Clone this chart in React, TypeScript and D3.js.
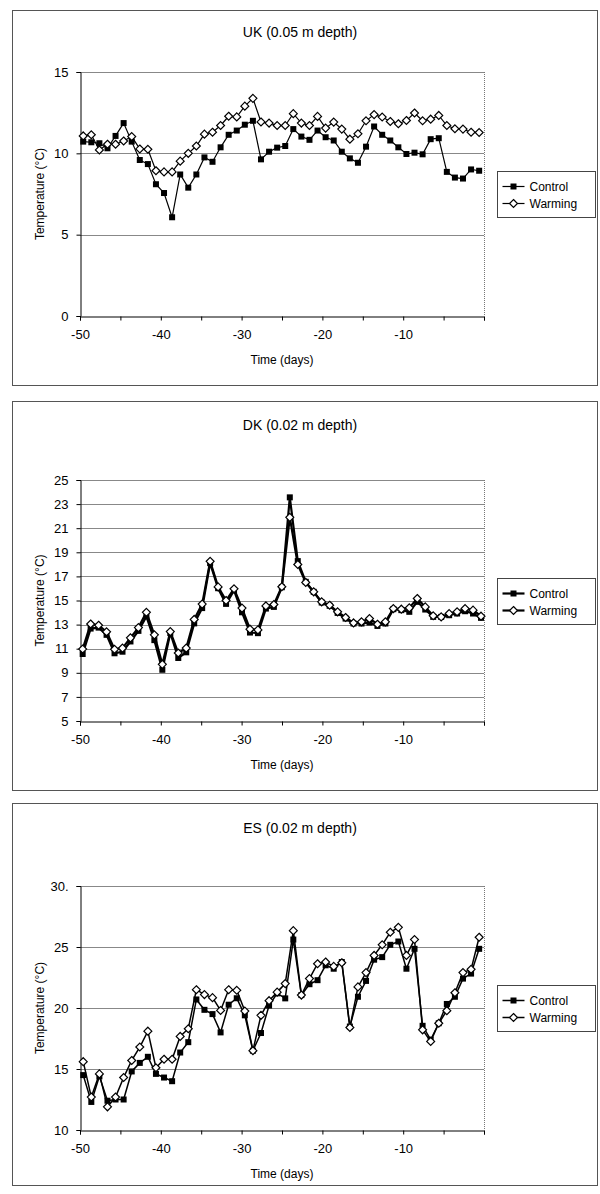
import React, { useEffect, useRef } from 'react';
import * as d3 from 'd3';

// readings from the three sites, one value per day
const ukControl = [10.72, 10.68, 10.62, 10.31, 11.07, 11.86, 10.72, 9.59, 9.34, 8.10,
  7.56, 6.07, 8.70, 7.89, 8.70, 9.75, 9.48, 10.37, 11.14, 11.40,
  11.76, 12.00, 9.63, 10.10, 10.35, 10.45, 11.49, 11.03, 10.83, 11.40,
  10.99, 10.79, 10.10, 9.69, 9.42, 10.41, 11.65, 11.14, 10.79, 10.37,
  9.96, 10.04, 9.94, 10.87, 10.93, 8.86, 8.51, 8.45, 9.01, 8.93];
const ukWarming = [11.07, 11.14, 10.21, 10.56, 10.56, 10.76, 11.03, 10.27, 10.25, 8.93,
  8.86, 8.86, 9.52, 10.0, 10.45, 11.18, 11.30, 11.71, 12.28, 12.24,
  12.9, 13.38, 11.93, 11.86, 11.71, 11.71, 12.44, 11.86, 11.71, 12.27,
  11.55, 11.92, 11.49, 10.87, 11.20, 12.0, 12.38, 12.23, 11.96, 11.82,
  12.02, 12.48, 12.0, 12.1, 12.33, 11.71, 11.51, 11.49, 11.30, 11.28];

const dkControl = [10.56, 12.67, 12.75, 12.15, 10.62, 10.75, 11.6, 12.48, 13.68, 11.71,
  9.25, 12.3, 10.23, 10.7, 13.1, 14.37, 18.1, 16.02, 14.72, 15.84,
  14.02, 12.34, 12.29, 14.33, 14.47, 16.1, 23.56, 18.27, 16.55, 15.72,
  14.83, 14.56, 13.97, 13.5, 13.09, 13.09, 13.17, 12.89, 13.09, 14.28,
  14.2, 14.06, 14.89, 14.25, 13.64, 13.64, 13.78, 13.92, 14.11, 13.92, 13.56];
const dkWarming = [10.97, 13.05, 12.95, 12.4, 10.95, 11.05, 11.9, 12.75, 14.02, 12.15,
  9.7, 12.42, 10.64, 11.05, 13.43, 14.7, 18.25, 16.13, 15.0, 15.97,
  14.37, 12.62, 12.56, 14.55, 14.67, 16.14, 21.9, 17.99, 16.5, 15.72,
  14.89, 14.61, 14.06, 13.59, 13.14, 13.23, 13.5, 13.03, 13.23, 14.33,
  14.28, 14.39, 15.17, 14.47, 13.73, 13.64, 13.92, 14.06, 14.33, 14.2, 13.7];

const esControl = [14.5, 12.3, 14.4, 12.4, 12.5, 12.5, 14.8, 15.5, 16.0, 14.6,
  14.3, 14.0, 16.35, 17.2, 20.7, 19.85, 19.5, 18.0, 20.27, 20.8,
  19.4, 16.5, 17.95, 20.2, 21.2, 20.79, 25.61, 21.06, 21.95, 22.28,
  23.5, 23.22, 23.77, 18.48, 20.92, 22.22, 23.96, 24.17, 25.18, 25.45,
  23.22, 24.85, 18.54, 17.4, 18.75, 20.33, 20.92, 22.41, 22.82, 24.85];
const esWarming = [15.6, 12.7, 14.6, 11.9, 12.7, 14.3, 15.7, 16.8, 18.1, 15.1,
  15.8, 15.8, 17.67, 18.3, 21.5, 21.1, 20.85, 19.8, 21.5, 21.45,
  19.75, 16.5, 19.4, 20.6, 21.3, 22.0, 26.34, 21.06, 22.41, 23.63,
  23.77, 23.41, 23.71, 18.4, 21.73, 22.9, 24.31, 25.18, 26.21, 26.61,
  24.31, 25.61, 18.21, 17.26, 18.75, 19.78, 21.25, 22.9, 23.17, 25.8];

const ukTicks = [0, 5, 10, 15];
const dkTicks = [5, 7, 9, 11, 13, 15, 17, 19, 21, 23, 25];
const esTicks = [10, 15, 20, 25, 30];
const esTickLabels = ['10', '15', '20', '25', '30.'];
const xLabelTicks = [-50, -40, -30, -20, -10];
const xMinorTicks = [-50, -45, -40, -35, -30, -25, -20, -15, -10, -5, 0];
const seriesNames = ['Control', 'Warming'];

const font = 'Arial, "Liberation Sans", sans-serif';

const panels = [
  { title: 'UK (0.05 m depth)', control: ukControl, warming: ukWarming, dayStart: -49.6, dayStep: 1,
    frame: [10, 385], plot: [72, 316], titleY: 37, ticks: ukTicks, labels: ukTicks.map(String), lw: 1.2 },
  { title: 'DK (0.02 m depth)', control: dkControl, warming: dkWarming, dayStart: -49.67, dayStep: 0.986,
    frame: [401, 790], plot: [480, 721], titleY: 430, ticks: dkTicks, labels: dkTicks.map(String), lw: 2.2 },
  { title: 'ES (0.02 m depth)', control: esControl, warming: esWarming, dayStart: -49.6, dayStep: 1,
    frame: [803, 1185], plot: [886, 1130], titleY: 833, ticks: esTicks, labels: esTickLabels, lw: 1.5 },
];

export default function App() {
  const svgRef = useRef<SVGSVGElement>(null);

  useEffect(() => {
    const svg = d3.select(svgRef.current);
    svg.selectAll('*').remove();

    const x = d3.scaleLinear().domain([-50, 0]).range([80, 484]);
    const diamond = d3.symbol().type(d3.symbolDiamond2).size(40);

    panels.forEach(p => {
      const g = svg.append('g');
      const y = d3.scaleLinear()
        .domain([p.ticks[0], p.ticks[p.ticks.length - 1]])
        .range([p.plot[1], p.plot[0]]);

      // outer frame
      g.append('rect')
        .attr('x', 12.5).attr('y', p.frame[0] + 0.5)
        .attr('width', 585).attr('height', p.frame[1] - p.frame[0])
        .attr('fill', 'white').attr('stroke', '#555').attr('stroke-width', 1);

      g.append('text')
        .attr('x', 300).attr('y', p.titleY)
        .attr('text-anchor', 'middle')
        .style('font-family', font).style('font-size', '14px')
        .text(p.title);

      // grid lines
      g.selectAll('.grid')
        .data(p.ticks.slice(1))
        .join('line')
          .attr('x1', 80).attr('x2', 484)
          .attr('y1', d => Math.round(y(d)) + 0.5).attr('y2', d => Math.round(y(d)) + 0.5)
          .attr('stroke', '#888').attr('stroke-width', 1);

      // right border dotted
      g.append('line')
        .attr('x1', 484.5).attr('x2', 484.5)
        .attr('y1', p.plot[0]).attr('y2', p.plot[1])
        .attr('stroke', '#777').attr('stroke-dasharray', '1,1');

      // y axis
      const yAxis = d3.axisLeft(y)
        .tickValues(p.ticks)
        .tickSize(4)
        .tickFormat((d, i) => p.labels[i]);
      const ya = g.append('g').attr('transform', 'translate(80.5,0)').call(yAxis);
      ya.selectAll('text').style('font-family', font).style('font-size', '13px').attr('x', -12);
      ya.select('.domain').attr('stroke', '#000');

      // x axis
      const xAxis = d3.axisBottom(x)
        .tickValues(xMinorTicks)
        .tickSize(4)
        .tickFormat(d => (xLabelTicks.includes(+d) ? String(d) : ''));
      const xa = g.append('g').attr('transform', `translate(0,${p.plot[1] + 0.5})`).call(xAxis);
      xa.selectAll('text').style('font-family', font).style('font-size', '13px').attr('y', 13);
      xa.select('.domain').attr('stroke', '#000');

      g.append('text')
        .attr('x', 282).attr('y', p.plot[1] + 48)
        .attr('text-anchor', 'middle')
        .style('font-family', font).style('font-size', '12px')
        .text('Time (days)');

      g.append('text')
        .attr('transform', `translate(44,${(p.plot[0] + p.plot[1]) / 2}) rotate(-90)`)
        .attr('text-anchor', 'middle')
        .style('font-family', font).style('font-size', '12px')
        .text('Temperature (°C)');

      const day = (i: number) => p.dayStart + i * p.dayStep;
      const line = d3.line<number>()
        .x((d, i) => x(day(i)))
        .y(d => y(d));

      // control
      g.append('path').attr('d', line(p.control))
        .attr('fill', 'none').attr('stroke', '#000').attr('stroke-width', p.lw);
      // warming
      g.append('path').attr('d', line(p.warming))
        .attr('fill', 'none').attr('stroke', '#000').attr('stroke-width', p.lw);

      g.selectAll('.sq')
        .data(p.control)
        .join('rect')
          .attr('x', (d, i) => x(day(i)) - 3)
          .attr('y', d => y(d) - 3)
          .attr('width', 6).attr('height', 6)
          .attr('fill', '#000');

      g.selectAll('.dia')
        .data(p.warming)
        .join('path')
          .attr('d', diamond)
          .attr('transform', (d, i) => `translate(${x(day(i))},${y(d)})`)
          .attr('fill', 'white').attr('stroke', '#000').attr('stroke-width', 1.2);

      // legend
      const mid = (p.plot[0] + p.plot[1]) / 2;
      const lg = g.append('g').attr('transform', `translate(497.5,${Math.round(mid - 23) + 0.5})`);
      lg.append('rect').attr('width', 98).attr('height', 46)
        .attr('fill', 'white').attr('stroke', '#444');
      seriesNames.forEach((name, k) => {
        const cy = 15 + k * 17;
        lg.append('line').attr('x1', 5).attr('x2', 27).attr('y1', cy).attr('y2', cy)
          .attr('stroke', '#000').attr('stroke-width', p.lw);
        if (k === 0) {
          lg.append('rect').attr('x', 13).attr('y', cy - 3).attr('width', 6).attr('height', 6).attr('fill', '#000');
        } else {
          lg.append('path').attr('d', diamond).attr('transform', `translate(16,${cy})`)
            .attr('fill', 'white').attr('stroke', '#000').attr('stroke-width', 1.2);
        }
        lg.append('text').attr('x', 32).attr('y', cy + 4.5)
          .style('font-family', font).style('font-size', '12px')
          .text(name);
      });
    });
  }, []);

  return (
    <svg ref={svgRef} width={600} height={1194}
      style={{ position: 'absolute', left: 0, top: 0, background: 'white' }} />
  );
}
